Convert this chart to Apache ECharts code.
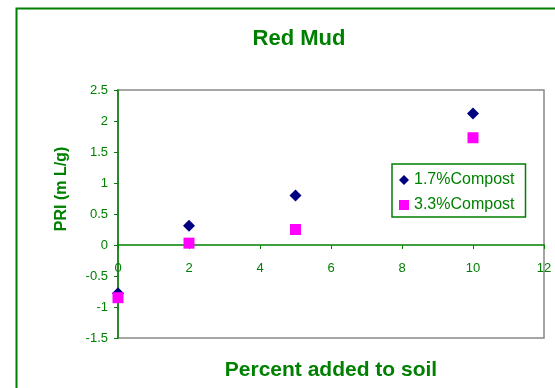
<!DOCTYPE html>
<html><head><meta charset="utf-8">
<script src="https://cdn.jsdelivr.net/npm/echarts@6/dist/echarts.min.js"></script>
<style>html,body{margin:0;padding:0;background:#fff}#c{width:555px;height:388px}</style>
</head><body><div id="c"></div>
<script>
const seriesNames = ['1.7%Compost', '3.3%Compost'];
const percentAdded = [0, 2, 5, 10];
const compost17 = [-0.78, 0.31, 0.80, 2.12];
const compost33 = [-0.85, 0.03, 0.25, 1.73];
const yMin = -1.5, yMax = 2.5, yStep = 0.5;
const xMin = 0, xMax = 12, xStep = 2;
const GREEN = '#008000';
const font = 'Liberation Sans, Arial, sans-serif';
const gridH = 248;
// x axis crosses the y axis at value 0
const xAxisOffset = -gridH * (0 - yMin) / (yMax - yMin);
const chart = echarts.init(document.getElementById('c'));
chart.setOption({
  animation: false,
  backgroundColor: '#fff',
  title: {
    text: 'Red Mud', left: 294, top: 23, textAlign: 'center',
    textStyle: {color: GREEN, fontSize: 22, fontWeight: 'bold', fontFamily: font}
  },
  graphic: [{
    type: 'rect', left: 14, top: 6, silent: true,
    shape: {width: 570, height: 420},
    style: {fill: 'none', stroke: GREEN, lineWidth: 2}
  }],
  grid: {left: 118, top: 90, width: 426, height: gridH, show: true, borderColor: '#888', borderWidth: 1.5,
         backgroundColor: 'transparent', containLabel: false, outerBoundsMode: 'none'},
  legend: {
    orient: 'vertical', left: 392, top: 164,
    borderColor: GREEN, borderWidth: 1.5, padding: [8, 11, 4, 7], itemGap: 9,
    itemWidth: 10, itemHeight: 10,
    textStyle: {color: GREEN, fontSize: 16, fontFamily: font},
    data: [{name: seriesNames[0], icon: 'diamond'}, {name: seriesNames[1], icon: 'rect'}]
  },
  xAxis: {
    type: 'value', min: xMin, max: xMax, interval: xStep,
    offset: xAxisOffset,
    name: 'Percent added to soil', nameLocation: 'middle', nameGap: 115,
    nameTextStyle: {color: GREEN, fontSize: 21, fontWeight: 'bold', fontFamily: font},
    axisLine: {onZero: false, lineStyle: {color: GREEN, width: 1.5}},
    axisTick: {show: true, length: 4, lineStyle: {color: GREEN}},
    axisLabel: {color: GREEN, fontSize: 13, fontFamily: font, margin: 17},
    splitLine: {show: false}
  },
  yAxis: {
    type: 'value', min: yMin, max: yMax, interval: yStep,
    name: 'PRI (m L/g)', nameLocation: 'middle', nameGap: 48,
    nameTextStyle: {color: GREEN, fontSize: 16, fontWeight: 'bold', fontFamily: font, padding: [0, 0, 0, 50]},
    axisLine: {show: true, onZero: false, lineStyle: {color: GREEN, width: 1.5}},
    axisTick: {show: true, length: 4, lineStyle: {color: GREEN}},
    axisLabel: {color: GREEN, fontSize: 13, fontFamily: font, margin: 10},
    splitLine: {show: false}
  },
  series: [
    {name: seriesNames[0], type: 'scatter', symbol: 'diamond', symbolSize: 12,
     itemStyle: {color: '#000080', opacity: 1}, data: percentAdded.map((x, i) => [x, compost17[i]])},
    {name: seriesNames[1], type: 'scatter', symbol: 'rect', symbolSize: 11,
     itemStyle: {color: '#FF00FF', opacity: 1}, data: percentAdded.map((x, i) => [x, compost33[i]])}
  ]
});
</script></body></html>
